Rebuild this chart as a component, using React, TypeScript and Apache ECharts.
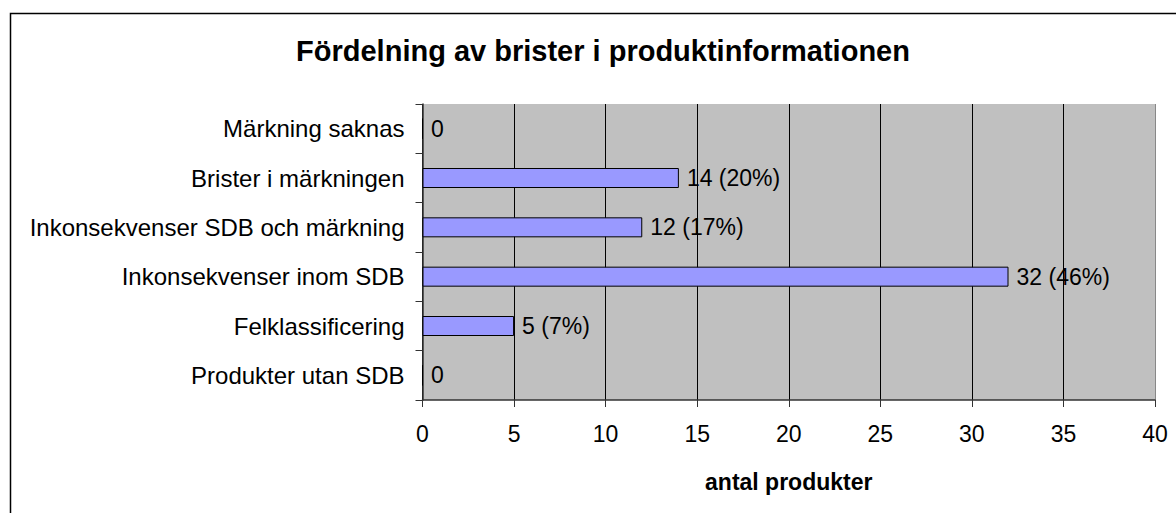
import React, { useEffect, useRef } from "react";
import * as echarts from "echarts";

const TITLE = "Fördelning av brister i produktinformationen";
const X_AXIS_NAME = "antal produkter";
const categories = [
  "Produkter utan SDB",
  "Felklassificering",
  "Inkonsekvenser inom SDB",
  "Inkonsekvenser SDB och märkning",
  "Brister i märkningen",
  "Märkning saknas",
];
const values = [0, 5, 32, 12, 14, 0];
const percents: (number | null)[] = [null, 7, 46, 17, 20, null];
const X_MIN = 0;
const X_MAX = 40;
const X_INTERVAL = 5;

const FONT = "'Liberation Sans', Arial, sans-serif";

export default function App() {
  const ref = useRef<HTMLDivElement>(null);
  useEffect(() => {
    if (!ref.current) return;
    const chart = echarts.init(ref.current, undefined, { renderer: "svg" });
    const splitColors = ["#000", "#000", "#000", "#000", "#000", "#000", "#000", "#000", "#888"];
    chart.setOption({
      animation: false,
      backgroundColor: "#fff",
      textStyle: { fontFamily: FONT },
      title: {
        text: TITLE,
        left: 598,
        top: 46,
        textAlign: "center",
        textVerticalAlign: "middle",
        textStyle: { fontFamily: FONT, fontWeight: "bold", fontSize: 29, color: "#000" },
      },
      graphic: [
        {
          type: "rect",
          left: 8,
          top: 11,
          shape: { x: 0, y: 0, width: 1300, height: 600 },
          style: { fill: "none", stroke: "#000", lineWidth: 1.5 },
          silent: true,
        },
      ],
      grid: {
        left: 422.5,
        right: 21,
        top: 104,
        bottom: 113,
        show: true,
        backgroundColor: "#C0C0C0",
        borderWidth: 0,
      },
      xAxis: {
        type: "value",
        min: X_MIN,
        max: X_MAX,
        interval: X_INTERVAL,
        name: X_AXIS_NAME,
        nameLocation: "middle",
        nameGap: 70,
        nameTextStyle: { fontFamily: FONT, fontWeight: "bold", fontSize: 23, color: "#000" },
        axisLine: { show: true, lineStyle: { color: "#333", width: 1.5 } },
        axisTick: { show: true, length: 7, inside: false, lineStyle: { color: "#333" } },
        axisLabel: { fontFamily: FONT, fontSize: 23, color: "#000", margin: 22 },
        splitLine: { show: true, lineStyle: { color: splitColors, width: 1 } },
      },
      yAxis: {
        type: "category",
        data: categories,
        axisLine: { show: true, lineStyle: { color: "#333", width: 1.5 } },
        axisTick: { show: true, length: 7, inside: false, lineStyle: { color: "#333" } },
        axisLabel: { fontFamily: FONT, fontSize: 24, color: "#000", margin: 18 },
        splitLine: { show: false },
      },
      series: [
        {
          type: "bar",
          data: values,
          barWidth: 20,
          itemStyle: { color: "#9999FF", borderColor: "#000", borderWidth: 1 },
          label: {
            show: true,
            position: "right",
            distance: 8,
            fontFamily: FONT,
            fontSize: 23,
            color: "#000",
            formatter: (p: any) => {
              const pc = percents[p.dataIndex];
              return pc == null ? `${p.value}` : `${p.value} (${pc}%)`;
            },
          },
        },
      ],
    });
    return () => chart.dispose();
  }, []);
  return (
    <div
      ref={ref}
      style={{ position: "fixed", left: 0, top: 0, width: 1176, height: 513 }}
    />
  );
}
